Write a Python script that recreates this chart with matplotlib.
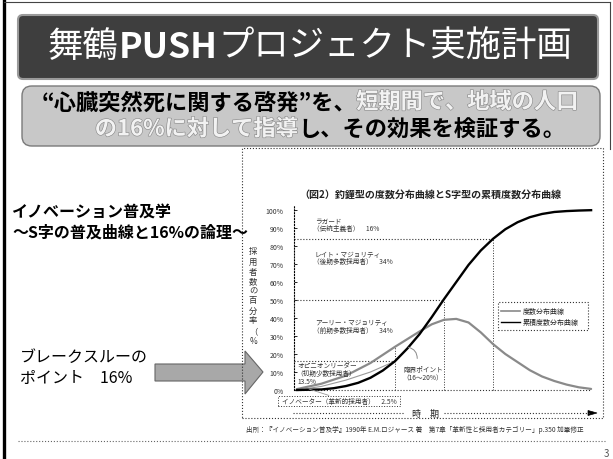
import matplotlib
matplotlib.use("Agg")
import matplotlib.pyplot as plt
import matplotlib.patheffects as pe
from matplotlib.patches import FancyBboxPatch, Rectangle, Polygon

plt.rcParams['font.family'] = ['Noto Sans CJK JP', 'DejaVu Sans']

# ── data (time in units of one std-dev from the mean) ──
bell_t = [-3.0, -2.5, -2.0, -1.5, -1.0, -0.5, -0.25, 0.0, 0.25, 0.5, 0.75, 1.0,
          1.25, 1.5, 1.75, 2.0, 2.25, 2.5, 2.75, 3.0]
bell_v = [0.5, 3.5, 8, 15, 24, 32.5, 36.5, 39, 39.5, 37.5, 32, 25.5,
          20, 15.5, 11, 7.5, 5, 3, 1.5, 0.6]

cum_t = [-3.0, -2.5, -2.25, -2.0, -1.75, -1.5, -1.25, -1.0, -0.75, -0.5, -0.25, 0.0,
         0.25, 0.5, 0.75, 1.0, 1.25, 1.5, 1.75, 2.0, 2.25, 2.5, 2.75, 3.0]
cum_v = [0, 0.3, 1, 2.2, 4, 6.8, 10.8, 16, 23, 31, 40.5, 50.5,
         60, 69.5, 77.5, 84, 89.3, 93.2, 96, 97.8, 98.9, 99.4, 99.7, 99.9]

cum2_t = [-3.0, -2.5, -2.0, -1.5, -1.0]
cum2_v = [0, 2, 5.5, 10, 16]

# (boundary time, cumulative %) for the adopter-category guide lines
cuts_t = [-1.0, 0.0, 1.0]
cuts_v = [16, 50, 84]

y_ticks = [0, 10, 20, 30, 40, 50, 60, 70, 80, 90, 100]
y_ticklabels = [f"{v}%" for v in y_ticks]

# ── figure / pixel helpers ───────────────────────────────────────────────────
W, H = 613, 460
fig = plt.figure(figsize=(W / 100, H / 100), dpi=100)
fig.patch.set_facecolor("white")


def fx(x):
    return x / W


def fy(y):
    return 1 - y / H


def ftext(x, y, s, **kw):
    return fig.text(fx(x), fy(y), s, **kw)


def runs(xc, y, parts, size):
    """Draw differently styled pieces of one line, centred on xc (px)."""
    r = fig.canvas.get_renderer()
    objs, x = [], 0.0
    for s, color, weight, light in parts:
        t = fig.text(x, fy(y), s, fontsize=size, color=color, fontweight=weight,
                     va="center", ha="left")
        if light:
            t.set_path_effects([pe.withStroke(linewidth=0.9, foreground="#8c8c8c")])
        objs.append(t)
        x += t.get_window_extent(renderer=r).width / W
    off = fx(xc) - x / 2
    for t in objs:
        t.set_x(t.get_position()[0] + off)
    return objs


# ── slide frame ──────────────────────────────────────────────────────────────
fig.add_artist(plt.Line2D([fx(4), fx(4)], [fy(2), fy(460)], color="black", lw=2.4))
fig.add_artist(plt.Line2D([fx(4), fx(610)], [fy(3), fy(3)], color="#444", lw=0.8))
fig.add_artist(plt.Line2D([fx(610), fx(610)], [fy(3), fy(150)], color="#444", lw=0.8))
fig.add_artist(plt.Line2D([fx(18), fx(605)], [fy(442), fy(442)], color="#666",
                          lw=0.8, ls=":"))
ftext(609, 454, "3", fontsize=7, color="#555", ha="right", va="center")

# title bar
fig.add_artist(FancyBboxPatch((fx(18), fy(80)), fx(598) - fx(18), fy(16) - fy(80),
                              boxstyle="round,pad=0,rounding_size=0.008",
                              mutation_aspect=W / H, fc="#3e3e3e", ec="#9a9a9a", lw=1.5,
                              transform=fig.transFigure))
runs(310, 47, [("舞鶴", "white", "normal", False),
               ("PUSH", "white", "bold", False),
               ("プロジェクト実施計画", "white", "normal", False)], 25.5)

# subtitle box
fig.add_artist(FancyBboxPatch((fx(22), fy(147)), fx(600) - fx(22), fy(87) - fy(147),
                              boxstyle="round,pad=0,rounding_size=0.016",
                              mutation_aspect=W / H, fc="#c8c8c8", ec="#7a7a7a", lw=1.0,
                              transform=fig.transFigure))
LIGHT = "#f2f2f2"
runs(310, 103, [("“心臓突然死に関する啓発”を、", "black", "bold", False),
                ("短期間で、地域の人口", LIGHT, "bold", True)], 16)
runs(330, 130, [("の16%に対して指導", LIGHT, "bold", True),
                ("し、その効果を検証する。", "black", "bold", False)], 16)

# left-hand texts
ftext(12, 213, "イノベーション普及学", fontsize=11.5, fontweight="bold", va="center")
ftext(12, 233, "～S字の普及曲線と16%の論理～", fontsize=11.5, fontweight="bold", va="center")
ftext(20, 357, "ブレークスルーの", fontsize=11.5, va="center")
ftext(20, 378, "ポイント　16%", fontsize=11.5, va="center")

# block arrow
arrow_px = [(155, 365), (245, 365), (245, 352), (263, 373), (245, 395), (245, 382), (155, 382)]
fig.add_artist(Polygon([(fx(x), fy(y)) for x, y in arrow_px], closed=True,
                       fc="#a8a8a8", ec="#666", lw=0.8, transform=fig.transFigure))

# chart panel
fig.add_artist(Rectangle((fx(242), fy(419)), fx(603) - fx(242), fy(149) - fy(419),
                         fill=False, ec="#333", lw=0.8, ls=":", transform=fig.transFigure))
ftext(430, 195, "（図2）釣鐘型の度数分布曲線とS字型の累積度数分布曲線",
      fontsize=7.2, fontweight="bold", ha="center", va="center", color="#222")

# ── chart axes ───────────────────────────────────────────────────────────────
ax = fig.add_axes([fx(294), fy(400), (596 - 294) / W, (400 - 202) / H])
ax.set_xlim(-3.06, 3.1)
ax.set_ylim(-5, 105)
ax.patch.set_alpha(0)
for side in ["top", "right", "bottom"]:
    ax.spines[side].set_visible(False)
ax.spines["left"].set_linestyle(":")
ax.spines["left"].set_linewidth(0.8)
ax.spines["left"].set_bounds(0, 103)
ax.set_xticks([])
ax.set_yticks(y_ticks)
ax.set_yticklabels(y_ticklabels, fontsize=5, color="#333")
ax.tick_params(axis="y", direction="in", length=2, width=0.6, pad=7.5)

# guide lines
ax.plot([-3.06, 2.98], [0, 0], color="#333", lw=0.8, ls=":")
for t, v in zip(cuts_t, cuts_v):
    ax.plot([-3.06, t], [v, v], color="#333", lw=0.8, ls=":")
    ax.plot([t, t], [0, v if t >= 0 else 24], color="#333", lw=0.7, ls=":")

# curves
ax.plot(bell_t, bell_v, color="#8a8a8a", lw=1.6, solid_capstyle="round")
ax.plot(cum2_t, cum2_v, color="#9a9a9a", lw=0.8)
ax.plot(cum_t, cum_v, color="black", lw=1.7)

# critical point hook
ax.annotate("", xy=(-0.78, 24), xytext=(-0.55, 16),
            arrowprops=dict(arrowstyle="-", color="#888", lw=0.7,
                            connectionstyle="arc3,rad=0.5"))
ax.plot([-2.35, -2.75], [-3, 0.5], color="#999", lw=0.6)

# legend
fig.add_artist(Rectangle((fx(498), fy(331)), fx(588) - fx(498), fy(303) - fy(331),
                         fill=False, ec="#333", lw=0.8, ls=":", transform=fig.transFigure))
fig.add_artist(plt.Line2D([fx(501), fx(520)], [fy(312), fy(312)], color="#8a8a8a", lw=1.2))
fig.add_artist(plt.Line2D([fx(501), fx(520)], [fy(323), fy(323)], color="black", lw=1.0))
ftext(523, 312, "度数分布曲線", fontsize=5, va="center", color="#222")
ftext(523, 323, "累積度数分布曲線", fontsize=5, va="center", color="#222")

# category labels
LBL = dict(fontsize=4.8, color="#333", va="center")
ftext(315, 222, "ラガード", **LBL)
ftext(313, 229, "（伝統主義者）　16%", **LBL)
ftext(315, 255, "レイト・マジョリティ", **LBL)
ftext(313, 262, "（後期多数採用者）　34%", **LBL)
ftext(315, 323, "アーリー・マジョリティ", **LBL)
ftext(313, 331, "（前期多数採用者）　34%", **LBL)
ftext(297, 366, "オピニオンリーダー", **LBL)
ftext(296, 374, "（初期少数採用者）", **LBL)
ftext(297, 382, "13.5%", **LBL)
ftext(403, 370, "臨界ポイント", **LBL)
ftext(402, 378, "（16～20%）", **LBL)
fig.add_artist(Rectangle((fx(278), fy(407)), fx(400) - fx(278), fy(397) - fy(407),
                         fill=False, ec="#333", lw=0.7, ls=":", transform=fig.transFigure))
ftext(282, 402, "イノベーター（革新的採用者）　2.5%", **LBL)

# y-axis label, stacked characters
for ch, yy in zip("採用者数の百分率（%", [252, 262, 272, 282, 291, 301, 311, 321, 332, 342]):
    ftext(253, yy, ch, fontsize=6, ha="center", va="center", color="#333")

# time axis
fig.add_artist(plt.Line2D([fx(293), fx(404)], [fy(414), fy(414)], color="#333", lw=0.8, ls=":"))
fig.add_artist(plt.Line2D([fx(444), fx(590)], [fy(414), fy(414)], color="#333", lw=0.8, ls=":"))
fig.add_artist(Polygon([(fx(588), fy(411.5)), (fx(597), fy(414)), (fx(588), fy(416.5))],
                       closed=True, fc="black", ec="black", lw=0.5, transform=fig.transFigure))
ftext(425, 414, "時　期", fontsize=6.5, ha="center", va="center", color="#222")

# source note
ftext(246, 430, "出所：『イノベーション普及学』1990年 E.M.ロジャース 著　"
                "第7章「革新性と採用者カテゴリー」p.350 加筆修正",
      fontsize=4.75, va="center", color="#333")

fig.savefig("out.png", dpi=100)
